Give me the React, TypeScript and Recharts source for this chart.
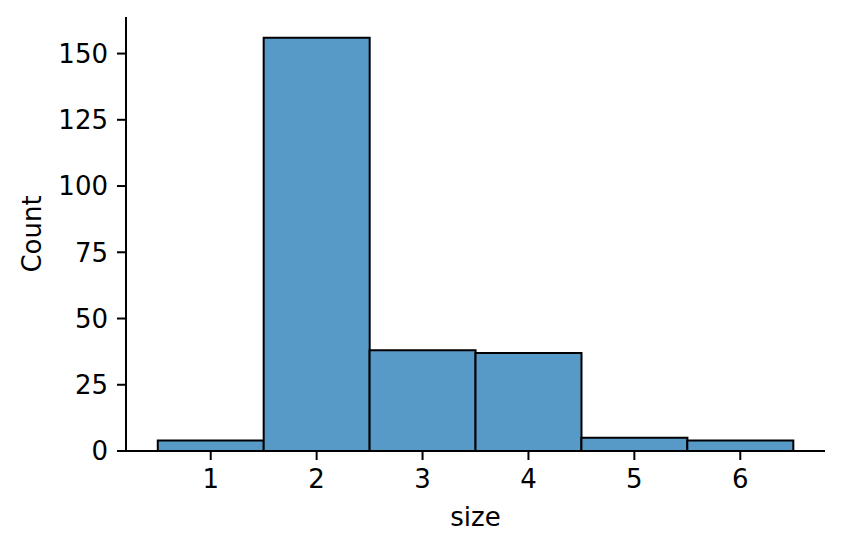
import { ComposedChart, Bar, XAxis, YAxis, Label } from 'recharts';

const sizes = [1, 2, 3, 4, 5, 6];
const counts = [4, 156, 38, 37, 5, 4];
const xTicks = [1, 2, 3, 4, 5, 6];
const yTicks = [0, 25, 50, 75, 100, 125, 150];

const data = sizes.map((size, i) => ({ size, count: counts[i] }));

const font = 'DejaVu Sans';
const tickStyle = { fill: '#000', fontSize: 26, fontFamily: font };
const axisLine = { stroke: '#000', strokeWidth: 2 };

export default function App() {
  return (
    <div style={{ position: 'absolute', left: 0, top: 0, background: '#fff' }}>
      <ComposedChart
        width={842}
        height={552}
        data={data}
        margin={{ top: 17, right: 17, left: 0, bottom: 0 }}
        barCategoryGap={0}
        barGap={0}
      >
        <XAxis
          dataKey="size"
          type="number"
          domain={[0.2, 6.8]}
          ticks={xTicks}
          allowDataOverflow
          height={101}
          tickSize={9}
          tickMargin={10}
          tick={tickStyle}
          axisLine={axisLine}
          tickLine={axisLine}
        >
          <Label value="size" position="insideBottom" offset={26} style={{ fill: '#000', fontSize: 26, fontFamily: font }} />
        </XAxis>
        <YAxis
          type="number"
          domain={[0, 163.8]}
          ticks={yTicks}
          allowDataOverflow
          width={126}
          tickSize={9}
          tickMargin={9}
          tick={tickStyle}
          axisLine={axisLine}
          tickLine={axisLine}
        >
          <Label value="Count" angle={-90} position="insideLeft" offset={32} style={{ fill: '#000', fontSize: 26, fontFamily: font, textAnchor: 'middle' }} />
        </YAxis>
        <Bar dataKey="count" fill="#5799c7" stroke="#000" strokeWidth={2} isAnimationActive={false} />
      </ComposedChart>
    </div>
  );
}
